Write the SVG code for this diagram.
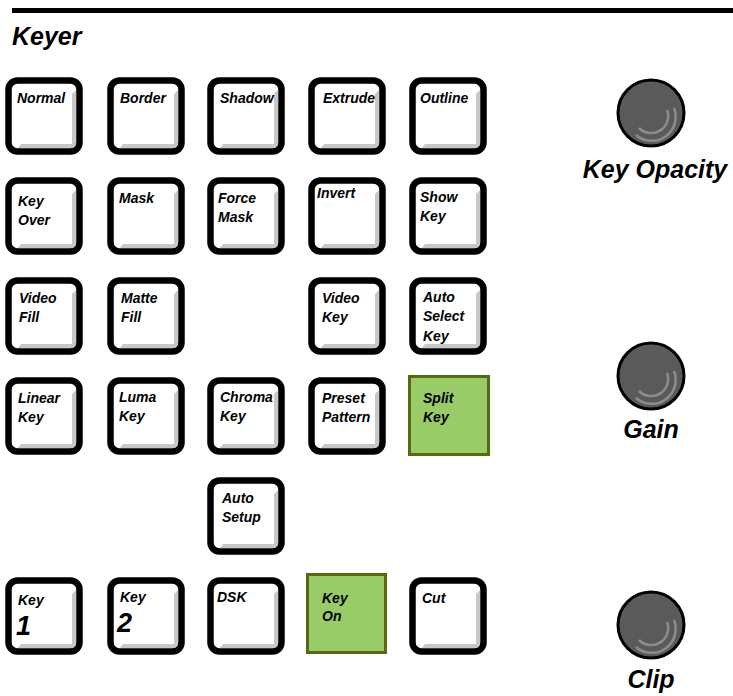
<svg xmlns="http://www.w3.org/2000/svg" width="733" height="696" viewBox="0 0 733 696">
<style>
.t{font-family:"Liberation Sans",Arial,sans-serif;font-weight:bold;font-style:italic;font-size:14px;fill:#000}
.big{font-size:27px}
.title{font-family:"Liberation Sans",Arial,sans-serif;font-weight:bold;font-style:italic;font-size:25px;fill:#000}
.frame{fill:#fff;stroke:#000;stroke-width:6.5}
.sh{fill:#c8c8c8}
.grn{fill:#99cc66;stroke:#556b10;stroke-width:3}
.knob{fill:#5a5a5a;stroke:#000;stroke-width:3}
.arc{fill:none;stroke:#8c8c8c;stroke-width:2.5}
</style>
<defs>
<g id="btn">
<rect class="frame" x="3.5" y="3.5" width="71" height="71" rx="9"/>
<polygon class="sh" points="67,17 71,13 71,68 68,71 13,71 16,67 67,67"/>
</g>
<g id="knobshape">
<circle class="knob" cx="0" cy="0" r="33"/>
<path class="arc" d="M-12,15 A17,17 0 0 0 16,-3"/>
<path class="arc" d="M-15,22 A24,24 0 0 0 23,-5"/>
</g>
</defs>
<rect x="12" y="8" width="721" height="5" fill="#000"/>
<text class="title" x="12" y="45">Keyer</text>

<g id="normal"><use href="#btn" x="5" y="77"/><text class="t" x="17" y="103">Normal</text></g>
<g id="border"><use href="#btn" x="107" y="77"/><text class="t" x="120" y="103">Border</text></g>
<g id="shadow"><use href="#btn" x="207" y="77"/><text class="t" x="220" y="103">Shadow</text></g>
<g id="extrude"><use href="#btn" x="308" y="77"/><text class="t" x="323" y="103">Extrude</text></g>
<g id="outline"><use href="#btn" x="409" y="77"/><text class="t" x="420" y="103">Outline</text></g>

<g id="keyover"><use href="#btn" x="5" y="177"/><text class="t" x="18" y="206">Key</text><text class="t" x="18" y="225">Over</text></g>
<g id="mask"><use href="#btn" x="107" y="177"/><text class="t" x="119" y="203">Mask</text></g>
<g id="forcemask"><use href="#btn" x="207" y="177"/><text class="t" x="218" y="203">Force</text><text class="t" x="218" y="222">Mask</text></g>
<g id="invert"><use href="#btn" x="308" y="177"/><text class="t" x="317" y="198">Invert</text></g>
<g id="showkey"><use href="#btn" x="409" y="177"/><text class="t" x="420" y="202">Show</text><text class="t" x="420" y="221">Key</text></g>

<g id="videofill"><use href="#btn" x="5" y="277"/><text class="t" x="19" y="303">Video</text><text class="t" x="19" y="322">Fill</text></g>
<g id="mattefill"><use href="#btn" x="107" y="277"/><text class="t" x="121" y="303">Matte</text><text class="t" x="121" y="322">Fill</text></g>
<g id="videokey"><use href="#btn" x="308" y="277"/><text class="t" x="322" y="303">Video</text><text class="t" x="322" y="322">Key</text></g>
<g id="autoselectkey"><use href="#btn" x="409" y="277"/><text class="t" x="423" y="302">Auto</text><text class="t" x="423" y="321">Select</text><text class="t" x="423" y="341">Key</text></g>

<g id="linearkey"><use href="#btn" x="5" y="377"/><text class="t" x="18" y="403">Linear</text><text class="t" x="18" y="422">Key</text></g>
<g id="lumakey"><use href="#btn" x="107" y="377"/><text class="t" x="119" y="402">Luma</text><text class="t" x="119" y="421">Key</text></g>
<g id="chromakey"><use href="#btn" x="207" y="377"/><text class="t" x="220" y="402">Chroma</text><text class="t" x="220" y="421">Key</text></g>
<g id="presetpattern"><use href="#btn" x="308" y="377"/><text class="t" x="322" y="403">Preset</text><text class="t" x="322" y="422">Pattern</text></g>
<g id="splitkey"><rect class="grn" x="409.5" y="376.5" width="79" height="78"/><text class="t" x="423" y="403">Split</text><text class="t" x="423" y="422">Key</text></g>

<g id="autosetup"><use href="#btn" x="207" y="477"/><text class="t" x="222" y="503">Auto</text><text class="t" x="222" y="522">Setup</text></g>

<g id="key1"><use href="#btn" x="5" y="577"/><text class="t" x="18" y="605">Key</text><text class="t big" x="16" y="635">1</text></g>
<g id="key2"><use href="#btn" x="107" y="577"/><text class="t" x="120" y="602">Key</text><text class="t big" x="117" y="632">2</text></g>
<g id="dsk"><use href="#btn" x="207" y="577"/><text class="t" x="217" y="602">DSK</text></g>
<g id="keyon"><rect class="grn" x="307.5" y="574.5" width="78" height="78"/><text class="t" x="322" y="603">Key</text><text class="t" x="322" y="621">On</text></g>
<g id="cut"><use href="#btn" x="409" y="577"/><text class="t" x="422" y="603">Cut</text></g>

<g id="keyopacity"><use href="#knobshape" x="651" y="113"/><text class="title" x="655" y="178" text-anchor="middle">Key Opacity</text></g>
<g id="gain"><use href="#knobshape" x="651" y="376"/><text class="title" x="651" y="438" text-anchor="middle">Gain</text></g>
<g id="clip"><use href="#knobshape" x="651" y="625"/><text class="title" x="651" y="688" text-anchor="middle">Clip</text></g>
</svg>
